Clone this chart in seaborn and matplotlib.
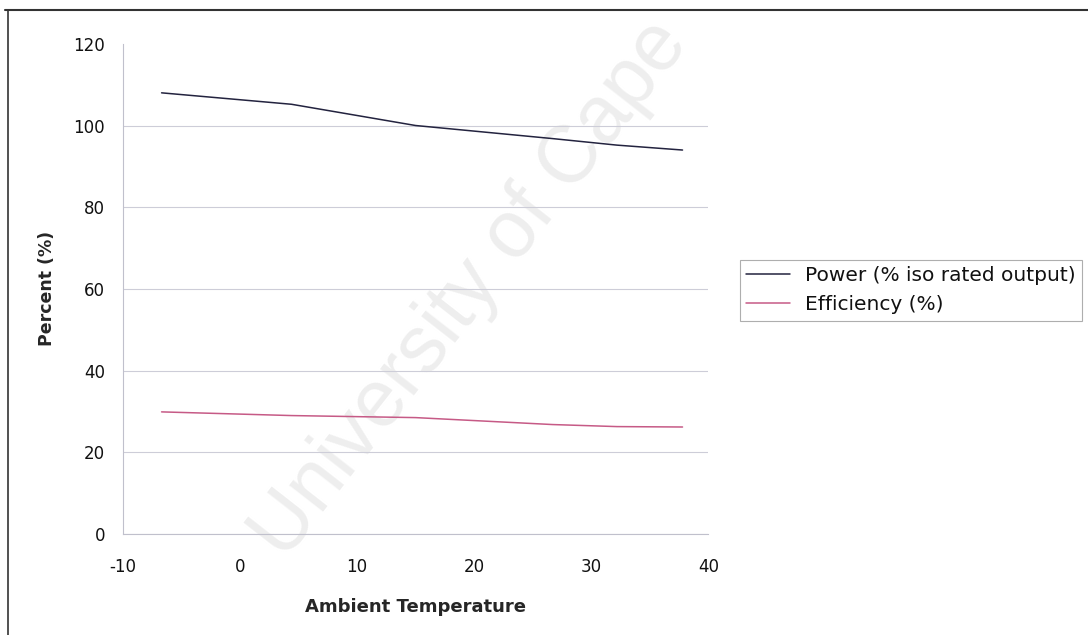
import matplotlib
matplotlib.use("Agg")
import matplotlib.pyplot as plt
from matplotlib.lines import Line2D
import seaborn as sns
import pandas as pd

# Ambient temperature (°C) and gas turbine performance
temperature = [-6.7, 4.4, 15.0, 26.7, 32.2, 37.8]
power_pct = [108.0, 105.2, 100.0, 96.8, 95.2, 94.0]
efficiency_pct = [29.9, 29.0, 28.5, 26.8, 26.3, 26.2]
series_names = ["Power (% iso rated output)", "Efficiency (%)"]
x_ticks = [-10, 0, 10, 20, 30, 40]
y_ticks = [0, 20, 40, 60, 80, 100, 120]

df = pd.DataFrame({
    "temp": temperature * 2,
    "value": power_pct + efficiency_pct,
    "series": [series_names[0]] * len(temperature) + [series_names[1]] * len(temperature),
})

sns.set_style("white")
plt.rcParams["font.family"] = ["DejaVu Sans"]
plt.rcParams["axes.unicode_minus"] = False

fig = plt.figure(figsize=(10.88, 6.35), dpi=100)
ax = fig.add_axes([0.113, 0.159, 0.538, 0.772])
ax.patch.set_alpha(0)

palette = {series_names[0]: "#23233f", series_names[1]: "#c65a86"}
sns.lineplot(data=df, x="temp", y="value", hue="series", palette=palette,
             linewidth=1.1, ax=ax, legend=False, sort=True)

ax.set_xlim(-10, 40)
ax.set_ylim(0, 120)
ax.set_xticks(x_ticks)
ax.set_yticks(y_ticks)
ax.tick_params(axis="both", labelsize=12, length=5, width=0.8,
               direction="out", colors="#111111")
ax.tick_params(axis="both", color="#b8b8c8")
ax.tick_params(axis="x", pad=12)
ax.tick_params(axis="y", pad=8)
ax.yaxis.grid(True, color="#cdcdd8", linewidth=0.8)
ax.yaxis.get_gridlines()[-1].set_visible(False)
for side in ("top", "right"):
    ax.spines[side].set_visible(False)
for side in ("left", "bottom"):
    ax.spines[side].set_color("#c0c0cc")
    ax.spines[side].set_linewidth(0.8)

ax.set_xlabel("Ambient Temperature", fontsize=13, fontweight="bold", labelpad=16)
ax.set_ylabel("Percent (%)", fontsize=12.5, fontweight="bold", labelpad=12)

# Legend beside the plot area
handles = [Line2D([], [], color=palette[n], linewidth=1.1) for n in series_names]
leg = fig.legend(handles, series_names, loc="upper left",
                 bbox_to_anchor=(0.680, 0.590), fontsize=14.5,
                 handlelength=2.2, handletextpad=0.75, labelspacing=0.5,
                 frameon=True, fancybox=False, borderaxespad=0, borderpad=0.3)
leg.get_frame().set_edgecolor("#9a9a9a")
leg.get_frame().set_linewidth(0.8)
for t in leg.get_texts():
    t.set_color("#111111")

# Chart border (top and left edges)
fig.add_artist(Line2D([0.005, 1.0], [0.984, 0.984], color="#333333", linewidth=1.5,
                      transform=fig.transFigure))
fig.add_artist(Line2D([0.0075, 0.0075], [0.0, 0.984], color="#333333", linewidth=1.2,
                      transform=fig.transFigure))

# Faint diagonal watermark behind the chart
fig.text(0.262, 0.115, "University of Cape", rotation=52, rotation_mode="anchor",
         fontsize=58, color="#eeeeee", ha="left", va="baseline", zorder=-1,
         family="Liberation Sans")

fig.savefig("out.png", dpi=100)
